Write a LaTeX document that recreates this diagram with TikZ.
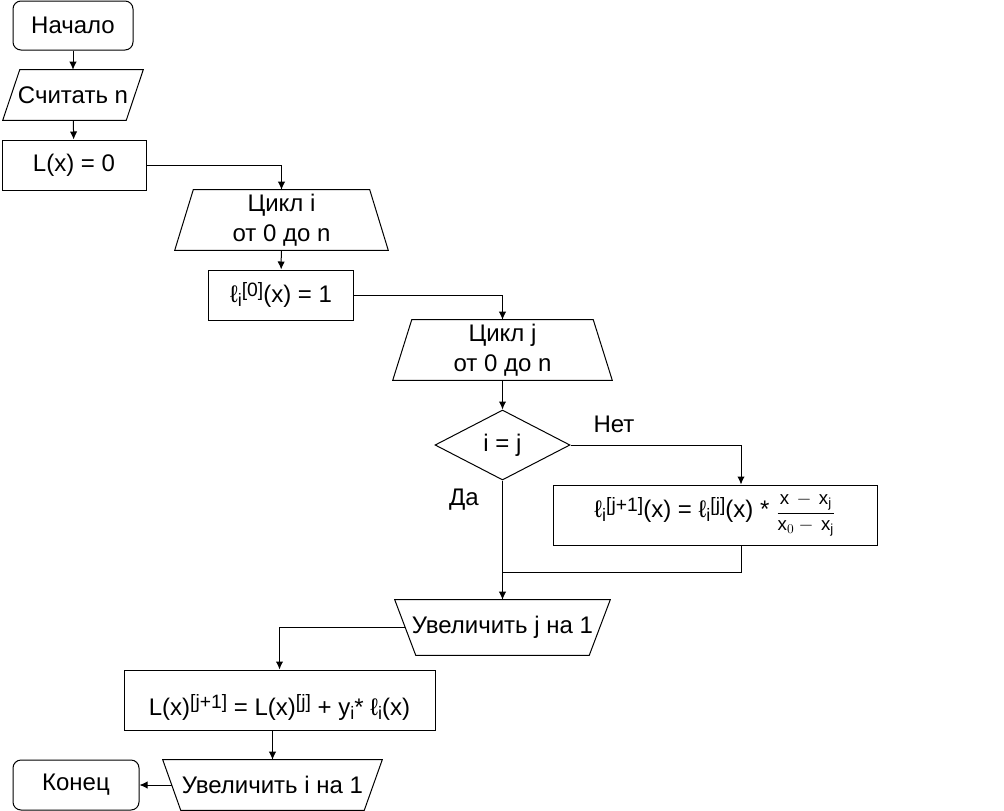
\documentclass[tikz,border=0pt]{standalone}
\usepackage{fontspec}
\setmainfont{Liberation Sans}
\usetikzlibrary{shapes.geometric,arrows.meta}
\pgfdeclarelayer{edgelayer}
\pgfdeclarelayer{nodelayer}
\pgfsetlayers{edgelayer,nodelayer,main}
\newcommand{\hiidx}[1]{\raisebox{5pt}{\fontsize{14.5}{14.5}\selectfont #1}}
\newcommand{\loidx}[1]{\raisebox{-3pt}{\fontsize{13.5}{13.5}\selectfont #1}}
\tikzset{font=\fontsize{18}{22.5}\selectfont}
\tikzstyle{none}=[inner sep=0pt]
\tikzstyle{term}=[draw,rectangle,rounded corners=6pt,line width=0.75pt]
\tikzstyle{proc}=[draw,rectangle,line width=0.75pt]
\tikzstyle{blk}=[rectangle,inner sep=0pt,align=center]
\tikzstyle{cond}=[draw,diamond,aspect=2,inner sep=0pt,line width=0.75pt]
\tikzstyle{flow}=[line width=0.75pt,-{Latex[length=6pt,width=5.5pt]}]
\tikzstyle{wire}=[line width=0.75pt]

\begin{document}
\begin{tikzpicture}[x=0.75pt,y=-0.75pt]
	\useasboundingbox (0,0) rectangle (1004,811);
	\begin{pgfonlayer}{nodelayer}
		\node [style=term, minimum width=90pt, minimum height=36.75pt] (0) at (73, 25.5) {Начало};
		\node [style=blk, minimum width=105pt, minimum height=37.5pt] (1) at (73, 95) {Считать n};
		\node [style=proc, minimum width=108pt, minimum height=37.5pt] (2) at (74, 165) {L(x) = 0};
		\node [style=blk, minimum width=159.75pt, minimum height=45pt] (3) at (281.5, 220) {Цикл i\\от 0 до n};
		\node [style=proc, minimum width=108.75pt, minimum height=37.5pt] (4) at (281, 295) {ℓ\loidx{i}\hiidx{[0]}(x) = 1};
		\node [style=blk, minimum width=164.25pt, minimum height=45pt] (5) at (502.5, 350) {Цикл j\\от 0 до n};
		\node [style=cond, minimum width=101.25pt, minimum height=52.5pt] (6) at (502.5, 445) {i = j};
		\node [style=proc, minimum width=243pt, minimum height=45pt] (7) at (715, 515) {ℓ\loidx{i}\hiidx{[j+1]}(x) = ℓ\loidx{i}\hiidx{[j]}(x) * {\fontsize{14}{16}\selectfont$\displaystyle\frac{\mathrm{x}\,-\,\mathrm{x}_{\mathrm{j}}}{\mathrm{x}_{0}-\,\mathrm{x}_{\mathrm{j}}}$}};
		\node [style=blk, minimum width=161.25pt, minimum height=41.25pt] (8) at (502.5, 627.5) {Увеличить j на 1};
		\node [style=proc, minimum width=233.25pt, minimum height=45pt, text height=26.5pt, text depth=4pt] (9) at (279.5, 700) {L(x)\hiidx{[j+1]} = L(x)\hiidx{[j]} + y\loidx{i}* ℓ\loidx{i}(x)};
		\node [style=blk, minimum width=164.25pt, minimum height=37.5pt] (10) at (272.5, 785) {Увеличить i на 1};
		\node [style=term, minimum width=94.5pt, minimum height=37.5pt] (11) at (76, 785) {Конец};
		\node [style=none] (12) at (502.5, 572) {};
		\node [style=none] (13) at (464, 500) {Да};
		\node [style=none] (14) at (614, 424) {Нет};
	\end{pgfonlayer}
	\begin{pgfonlayer}{edgelayer}
		\draw [style=wire] (1.south west) -- ([xshift=12.75pt]1.north west) -- (1.north east) -- ([xshift=-12.75pt]1.south east) -- cycle;
		\draw [style=wire] (3.south west) -- ([xshift=13.9pt]3.north west) -- ([xshift=-13.9pt]3.north east) -- (3.south east) -- cycle;
		\draw [style=wire] (5.south west) -- ([xshift=14.25pt]5.north west) -- ([xshift=-14.25pt]5.north east) -- (5.south east) -- cycle;
		\draw [style=wire] (8.north west) -- (8.north east) -- ([xshift=-15.75pt]8.south east) -- ([xshift=15.75pt]8.south west) -- cycle;
		\draw [style=wire] (10.north west) -- (10.north east) -- ([xshift=-13.5pt]10.south east) -- ([xshift=13.5pt]10.south west) -- cycle;
		\draw [style=flow] (0) to (1);
		\draw [style=flow] (1) to (2);
		\draw [style=flow] (2.east) -| (3.north);
		\draw [style=flow] (3) to (4);
		\draw [style=flow] (4.east) -| (5.north);
		\draw [style=flow] (5) to (6);
		\draw [style=flow] (6.east) -| ([xshift=19.5pt]7.north);
		\draw [style=wire] ([xshift=19.5pt]7.south) |- (12.center);
		\draw [style=flow] (6.south) to (8.north);
		\draw [style=flow] ([xshift=8pt]8.west) -| (9.north);
		\draw [style=flow] (9.south -| 10.north) to (10.north);
		\draw [style=flow] ([xshift=6.75pt]10.west) to (11.east);
	\end{pgfonlayer}
\end{tikzpicture}
\end{document}
